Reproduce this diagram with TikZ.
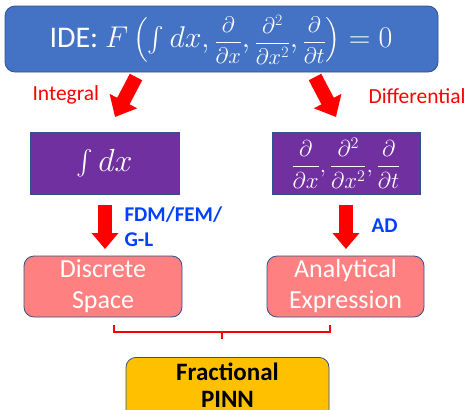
\RequirePackage{fix-cm}
\documentclass[tikz,border=0pt]{standalone}
\usepackage{fontspec}
\setmainfont{Carlito}
\usepackage{amsmath}
\usepackage{graphicx}
\usetikzlibrary{arrows.meta}
\definecolor{ideblue}{RGB}{68,114,196}
\definecolor{edgeblue}{RGB}{47,82,143}
\definecolor{ppl}{RGB}{112,48,160}
\definecolor{pink}{RGB}{255,128,128}
\definecolor{gold}{RGB}{255,192,0}
\definecolor{txtblue}{RGB}{0,64,255}
\newcommand\myfr[2]{\vcenter{\hbox{\scalebox{0.75}{$\dfrac{#1}{#2}$}}}}
\tikzset{
  box/.style={draw=edgeblue, line width=0.8pt, rounded corners=10pt, inner sep=0pt, text=white},
  purplebox/.style={draw=edgeblue, line width=0.8pt, fill=ppl, inner sep=0pt, text=white},
  bigarrow/.style={red, line width=14pt, -{Triangle[width=30pt,length=18pt]}},
  downarrow/.style={red, line width=14pt, -{Triangle[width=26pt,length=16pt]}},
  redlabel/.style={text=red, font=\fontsize{21.5}{24}\selectfont},
  bluelabel/.style={text=txtblue, font=\fontsize{21}{25}\selectfont\bfseries, align=left},
  pinktext/.style={align=center, font=\fontsize{26}{31}\selectfont},
}
\begin{document}
\begin{tikzpicture}[x=1pt,y=-1pt]
\useasboundingbox (0,0) rectangle (467,410);
% top box
\node[box, fill=ideblue, minimum width=433pt, minimum height=66pt] (ide) at (221.5,39) {};
\node[text=white, inner sep=0pt, font=\fontsize{30}{33}\selectfont] (idetext) at (221,40)
  {IDE:\ $F\left(\int dx,\myfr{\partial}{\partial x},\myfr{\partial^2}{\partial x^2},\myfr{\partial}{\partial t}\right)=0$};
% purple boxes
\node[purplebox, minimum width=149pt, minimum height=62pt, font=\fontsize{32}{34}\selectfont] (int) at (104.5,163) {$\int dx$};
\node[purplebox, minimum width=148pt, minimum height=62pt, font=\fontsize{23}{26}\selectfont] (diff) at (346,163)
  {$\dfrac{\partial}{\partial x},\dfrac{\partial^2}{\partial x^2},\dfrac{\partial}{\partial t}$};
% pink boxes
\node[box, fill=pink, minimum width=158pt, minimum height=61pt, pinktext] (disc) at (103,286.5) {Discrete\\Space};
\node[box, fill=pink, minimum width=157pt, minimum height=61pt, pinktext] (anal) at (345.5,286.5) {Analytical\\Expression};
% yellow box
\node[box, fill=gold, minimum width=203pt, minimum height=70pt, anchor=north] (pinn) at (227.5,357) {};
\node[text=black, inner sep=0pt, align=center, font=\fontsize{25}{27}\selectfont\bfseries, anchor=north] (pinntext) at (227.5,363) {Fractional\\PINN};
% arrows
\coordinate (a1s) at (136,77); \coordinate (a1e) at (115,117);
\coordinate (a2s) at (315,77); \coordinate (a2e) at (336,117);
\draw[bigarrow] (a1s) -- (a1e);
\draw[bigarrow] (a2s) -- (a2e);
\node[redlabel, anchor=west] (lint) at (29,95) {Integral};
\node[redlabel, anchor=west] (ldiff) at (365,96) {Differential};
\coordinate (d1s) at (105,205); \coordinate (d1e) at (105,249);
\coordinate (d2s) at (346,205); \coordinate (d2e) at (346,249);
\draw[downarrow] (d1s) -- (d1e);
\draw[downarrow] (d2s) -- (d2e);
\node[bluelabel, anchor=west] (fdm) at (121,227) {FDM/FEM/\\G-L};
\node[bluelabel, anchor=west] (ad) at (368,226) {AD};
% bracket
\coordinate (bl) at (114,325); \coordinate (br) at (330,325); \coordinate (bm) at (222,339);
\draw[red, line width=2pt] (bl) -- ++(0,7) -| (br);
\draw[red, line width=2pt] (bm) -- ++(0,-7);
\end{tikzpicture}
\end{document}
